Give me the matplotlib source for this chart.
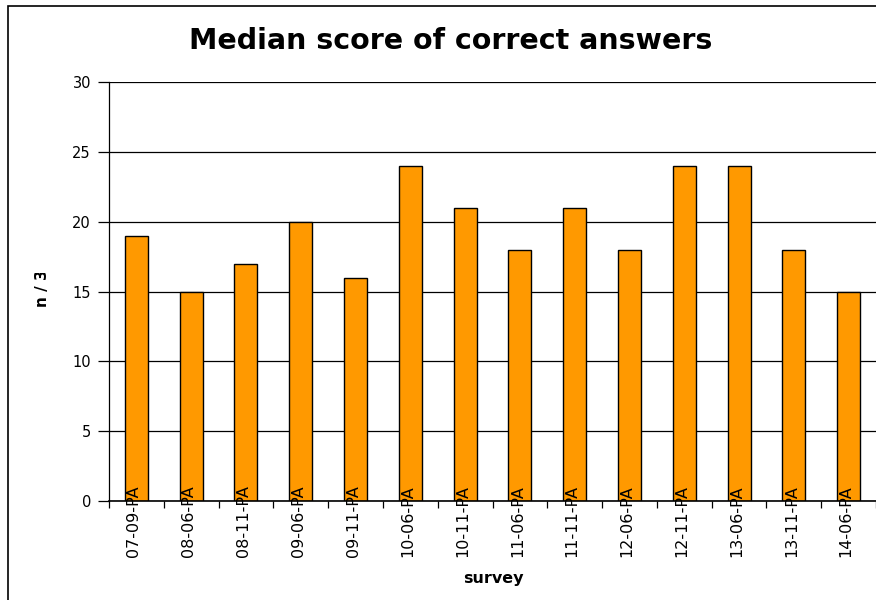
import matplotlib
matplotlib.use('Agg')
import matplotlib.pyplot as plt
from matplotlib.patches import Rectangle
from matplotlib.transforms import Bbox, ScaledTranslation

# survey labels and median scores
surveys = ['07-09-PA', '08-06-PA', '08-11-PA', '09-06-PA', '09-11-PA', '10-06-PA', '10-11-PA',
           '11-06-PA', '11-11-PA', '12-06-PA', '12-11-PA', '13-06-PA', '13-11-PA', '14-06-PA']
median_scores = [19, 15, 17, 20, 16, 24, 21, 18, 21, 18, 24, 24, 18, 15]
y_ticks = [0, 5, 10, 15, 20, 25, 30]

# wide sans to get close to the stretched Excel look
plt.rcParams['font.family'] = ['DejaVu Sans']

W, H = 876, 600
fig = plt.figure(figsize=(W / 100, H / 100), dpi=100)
# axes in pixel terms: left 109, right 876, top 82, bottom 501
ax = fig.add_axes([109 / W, 1 - 501 / H, (876 - 109) / W, (501 - 82) / H])

x = range(len(surveys))
ax.bar(x, median_scores, width=0.42, color='#FF9900', edgecolor='black', linewidth=1, zorder=3)

ax.set_xlim(-0.5, len(surveys) - 0.5)
ax.set_ylim(0, 30)
ax.set_yticks(y_ticks)
ax.yaxis.grid(True, color='black', linewidth=0.9)
ax.tick_params(axis='y', direction='out', length=8, width=0.9, labelsize=10.5, pad=5)

# category boundary ticks, labels at centers (drawn over the bars like Excel did)
ax.set_xticks([i + 0.5 for i in range(-1, len(surveys))], minor=True)
ax.set_xticks(list(x))
ax.set_xticklabels(surveys, rotation=90, fontsize=11.5)
ax.tick_params(axis='x', which='major', length=0, pad=-11.5)
ax.tick_params(axis='x', which='minor', direction='out', length=5, width=0.9)
shift = ScaledTranslation(-2.5 / 100, 0, fig.dpi_scale_trans)
for lbl in ax.get_xticklabels():
    lbl.set_transform(lbl.get_transform() + shift)
ax.yaxis.set_zorder(1)
ax.xaxis.set_zorder(4)

for s in ['top', 'right']:
    ax.spines[s].set_visible(False)
ax.spines['left'].set_linewidth(0.9)
ax.spines['bottom'].set_linewidth(1.2)
ax.spines['bottom'].set_zorder(5)

fig.text(451 / W, 1 - 41 / H, 'Median score of correct answers', ha='center', va='center',
         fontsize=20.5, fontweight='bold')
fig.text(493 / W, 1 - 578 / H, 'survey', ha='center', va='center', fontsize=11.5, fontweight='bold')

ylab = fig.text(42 / W, 1 - 283 / H, 'n / 30', ha='center', va='center', rotation=90,
                fontsize=11, fontweight='bold')
ylab.set_clip_box(Bbox.from_extents(0, H - 600, W, H - 273))
ylab.set_clip_on(True)

fig.patches.append(Rectangle((8 / W, -0.1), 1.2, 1 - 6 / H + 0.1, transform=fig.transFigure,
                             fill=False, edgecolor='black', linewidth=1.2))

fig.savefig('out.png', dpi=100)
